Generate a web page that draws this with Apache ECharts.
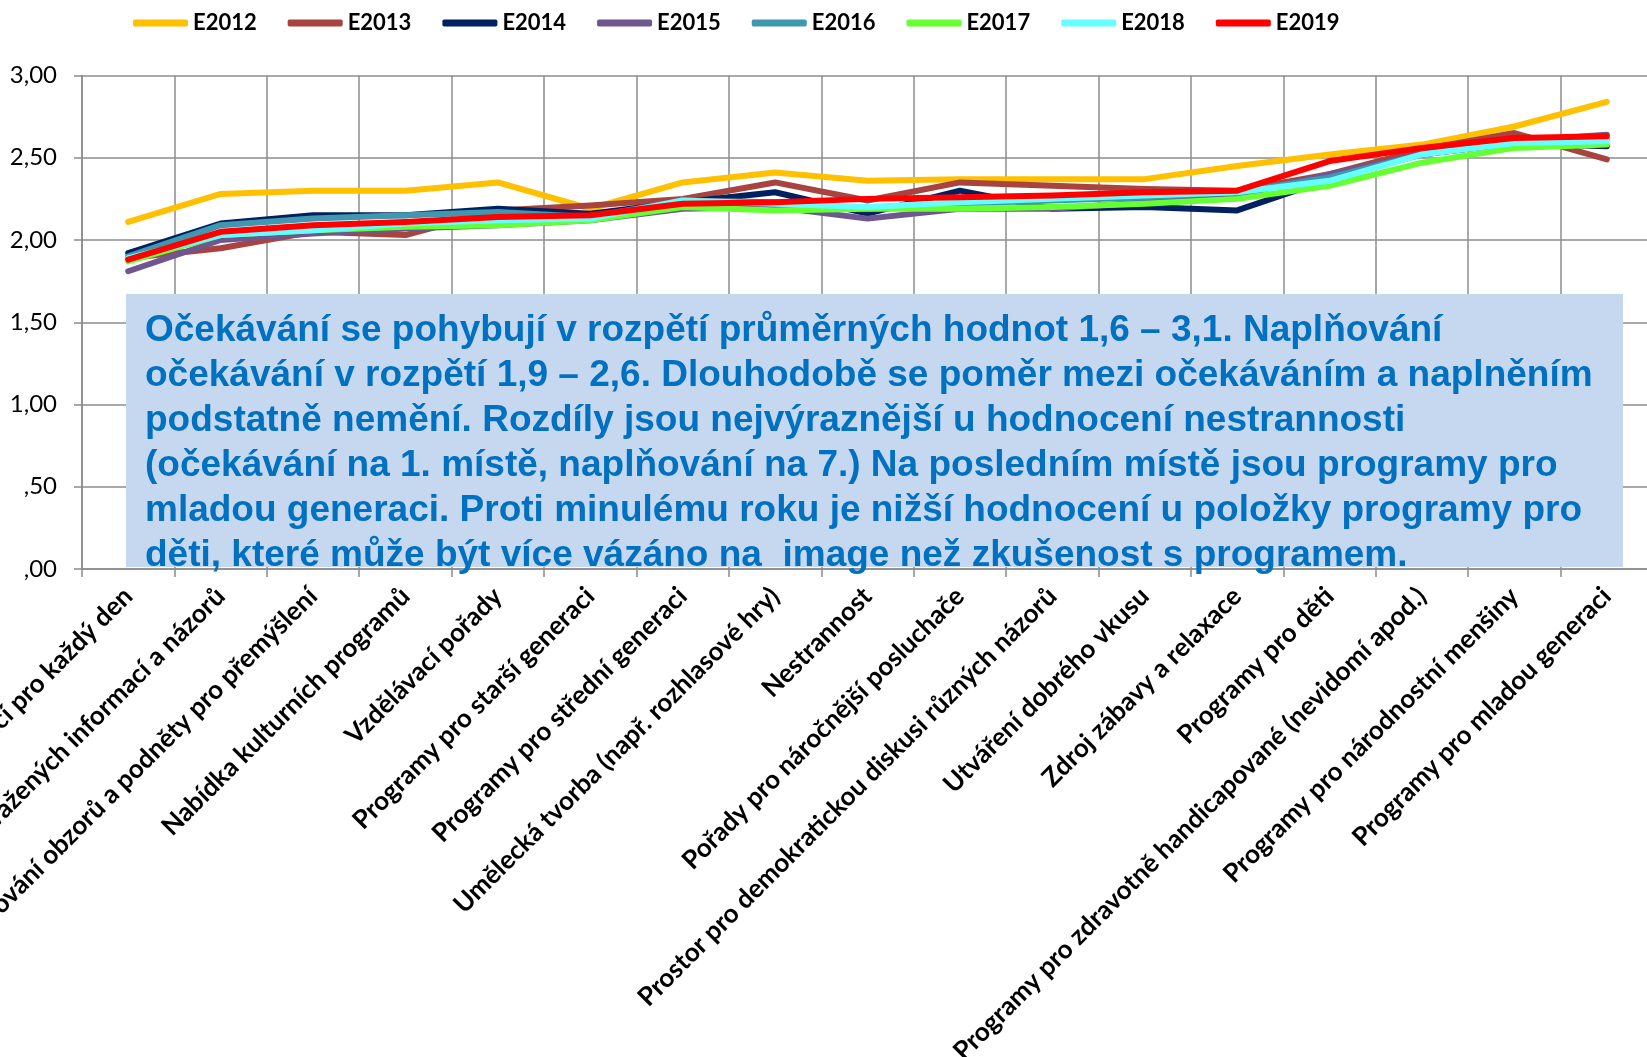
<!DOCTYPE html>
<html>
<head>
<meta charset="utf-8">
<script src="https://cdn.jsdelivr.net/npm/echarts@6/dist/echarts.min.js"></script>
<style>
  html, body { margin: 0; padding: 0; background: #fff; }
  #chart { width: 1647px; height: 1057px; }
</style>
</head>
<body>
<div id="chart"></div>
<script>
// kategorie (osa x)
const categories = [
  "Zdroj informací pro každý den",
  "Poskytování vyvážených informací a názorů",
  "Rozšiřování obzorů a podněty pro přemýšlení",
  "Nabídka kulturních programů",
  "Vzdělávací pořady",
  "Programy pro starší generaci",
  "Programy pro střední generaci",
  "Umělecká tvorba (např. rozhlasové hry)",
  "Nestrannost",
  "Pořady pro náročnější posluchače",
  "Prostor pro demokratickou diskusi různých názorů",
  "Utváření dobrého vkusu",
  "Zdroj zábavy a relaxace",
  "Programy pro děti",
  "Programy pro zdravotně handicapované (nevidomí apod.)",
  "Programy pro národnostní menšiny",
  "Programy pro mladou generaci"
];

const seriesNames = ["E2012", "E2013", "E2014", "E2015", "E2016", "E2017", "E2018", "E2019"];
const seriesColors = ["#ffc000", "#a8433f", "#002060", "#6f5690", "#3f97b0", "#66ff33", "#66ffff", "#ff0000"];

const e2012 = [2.11, 2.28, 2.30, 2.30, 2.35, 2.19, 2.35, 2.41, 2.36, 2.37, 2.37, 2.37, 2.45, 2.52, 2.58, 2.69, 2.84];
const e2013 = [1.89, 1.95, 2.05, 2.03, 2.18, 2.21, 2.25, 2.35, 2.24, 2.35, 2.33, 2.31, 2.30, 2.40, 2.55, 2.65, 2.49];
const e2014 = [1.92, 2.10, 2.15, 2.15, 2.19, 2.16, 2.23, 2.29, 2.16, 2.30, 2.19, 2.20, 2.18, 2.37, 2.52, 2.59, 2.57];
const e2015 = [1.81, 2.00, 2.04, 2.07, 2.09, 2.12, 2.19, 2.20, 2.13, 2.19, 2.19, 2.23, 2.27, 2.40, 2.52, 2.60, 2.64];
const e2016 = [1.90, 2.09, 2.13, 2.15, 2.17, 2.14, 2.24, 2.23, 2.19, 2.22, 2.24, 2.26, 2.29, 2.38, 2.52, 2.59, 2.61];
const e2017 = [1.87, 2.03, 2.06, 2.08, 2.09, 2.12, 2.20, 2.18, 2.19, 2.19, 2.20, 2.22, 2.25, 2.33, 2.47, 2.56, 2.58];
const e2018 = [1.89, 2.03, 2.06, 2.10, 2.12, 2.13, 2.24, 2.22, 2.20, 2.23, 2.25, 2.27, 2.29, 2.36, 2.52, 2.59, 2.60];
const e2019 = [1.88, 2.05, 2.09, 2.11, 2.14, 2.15, 2.22, 2.23, 2.25, 2.26, 2.27, 2.29, 2.30, 2.48, 2.56, 2.62, 2.63];

const allValues = [e2012, e2013, e2014, e2015, e2016, e2017, e2018, e2019];

const noteText = [
  "Očekávání se pohybují v rozpětí průměrných hodnot 1,6 – 3,1. Naplňování",
  "očekávání v rozpětí 1,9 – 2,6. Dlouhodobě se poměr mezi očekáváním a naplněním",
  "podstatně nemění. Rozdíly jsou nejvýraznější u hodnocení nestrannosti",
  "(očekávání na 1. místě, naplňování na 7.) Na posledním místě jsou programy pro",
  "mladou generaci. Proti minulému roku je nižší hodnocení u položky programy pro",
  "děti, které může být více vázáno na  image než zkušenost s programem."
].join("\n");

const chart = echarts.init(document.getElementById("chart"), null, { renderer: "canvas" });

const gridColor = "#8c8c8c";

const option = {
  animation: false,
  color: seriesColors,
  legend: {
    top: 7,
    left: 128,
    itemWidth: 55,
    itemHeight: 7,
    itemGap: 31,
    icon: "roundRect",
    textStyle: {
      fontFamily: "Lato",
      fontWeight: "bold",
      fontSize: 22,
      color: "#000"
    },
    data: seriesNames
  },
  grid: {
    left: 82,
    right: -6,
    top: 75.5,
    bottom: 488,
    outerBoundsMode: "none",
    containLabel: false
  },
  xAxis: {
    type: "category",
    data: categories,
    boundaryGap: true,
    axisLine: { lineStyle: { color: gridColor, width: 1.5 } },
    axisTick: { show: true, length: 8, lineStyle: { color: gridColor, width: 1.5 } },
    splitLine: { show: true, lineStyle: { color: gridColor, width: 1.5 } },
    axisLabel: {
      interval: 0,
      rotate: 45,
      margin: 23,
      fontFamily: "Lato",
      fontWeight: "bold",
      fontSize: 26,
      color: "#000"
    }
  },
  yAxis: {
    type: "value",
    min: 0,
    max: 3,
    interval: 0.5,
    axisLine: { show: true, lineStyle: { color: gridColor, width: 1.5 } },
    axisTick: { show: true, length: 8, lineStyle: { color: gridColor, width: 1.5 } },
    splitLine: { show: true, lineStyle: { color: gridColor, width: 1.5 } },
    axisLabel: {
      margin: 25,
      fontFamily: "Lato",
      fontSize: 24,
      color: "#000",
      formatter: (v) => v.toFixed(2).replace(".", ",").replace(/^0/, "")
    }
  },
  graphic: [
    {
      type: "rect",
      z: 1,
      shape: { x: 126, y: 294, width: 1497, height: 273 },
      style: { fill: "#c6d8f0" }
    },
    {
      type: "text",
      z: 2,
      x: 145,
      y: 308,
      style: {
        text: noteText,
        fill: "#0070c0",
        font: "bold 37px 'Liberation Sans', Arial, sans-serif",
        lineHeight: 45,
        verticalAlign: "top"
      }
    }
  ],
  series: seriesNames.map((name, i) => ({
    name: name,
    type: "line",
    data: allValues[i],
    symbol: "none",
    z: 3,
    lineStyle: { width: 6, color: seriesColors[i], cap: "round", join: "round" }
  }))
};

chart.setOption(option);
</script>
</body>
</html>
